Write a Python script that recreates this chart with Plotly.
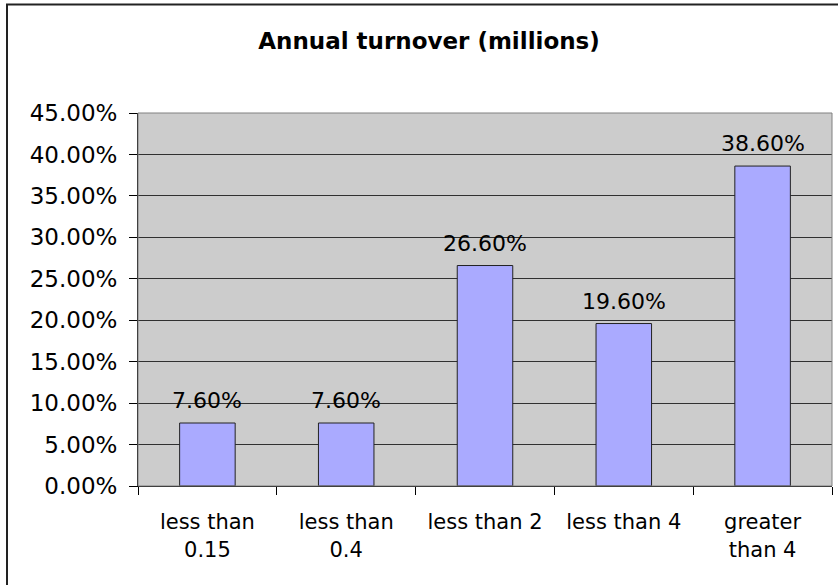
import plotly.graph_objects as go

# Share of companies by annual turnover band (millions)
categories = ["less than<br>0.15", "less than<br>0.4", "less than 2", "less than 4", "greater<br>than 4"]
shares = [0.076, 0.076, 0.266, 0.196, 0.386]
y_ticks = [0.0, 0.05, 0.10, 0.15, 0.20, 0.25, 0.30, 0.35, 0.40, 0.45]

W, H = 838, 585
ML, MR, MT, MB = 138, 6, 113, 99
PW, PH = W - ML - MR, H - MT - MB

FONT = "DejaVu Sans"
BAR_FILL = "#AAAAFF"
PLOT_BG = "#CCCCCC"
INK = "#000000"

fig = go.Figure()
fig.add_trace(go.Bar(
    x=categories,
    y=shares,
    marker=dict(color=BAR_FILL, line=dict(color="#222222", width=1)),
    hoverinfo="skip",
))

# value labels above each bar
for cat, val in zip(categories, shares):
    fig.add_annotation(
        x=cat, y=val, xref="x", yref="y",
        text=f"{val * 100:.2f}%",
        showarrow=False, yanchor="bottom", yshift=8,
        font=dict(family=FONT, size=22, color=INK),
    )

def px_to_paper_x(px):
    return (px - ML) / PW

def px_to_paper_y(py):
    return (H - MB - py) / PH

shapes = [
    # plot-area frame (grey)
    dict(type="rect", xref="paper", yref="paper", x0=0, x1=1, y0=0, y1=1,
         line=dict(color="#808080", width=1), fillcolor="rgba(0,0,0,0)", layer="above"),
    # outer chart border (left and top edges; right and bottom run off the page)
    dict(type="rect", xref="paper", yref="paper",
         x0=px_to_paper_x(7), x1=px_to_paper_x(W + 10),
         y0=px_to_paper_y(H + 10), y1=px_to_paper_y(4.5),
         line=dict(color="#222222", width=2), fillcolor="rgba(0,0,0,0)", layer="above"),
]

fig.update_layout(
    width=W, height=H,
    margin=dict(l=ML, r=MR, t=MT, b=MB, pad=0),
    paper_bgcolor="white",
    plot_bgcolor=PLOT_BG,
    bargap=0.6,
    showlegend=False,
    font=dict(family=FONT, size=22, color=INK),
    title=dict(
        text="<b>Annual turnover (millions)</b>",
        x=429 / W, xanchor="center", xref="container",
        y=1 - 41 / H, yanchor="middle", yref="container",
        font=dict(family=FONT, size=23, color=INK),
    ),
    shapes=shapes,
    xaxis=dict(
        type="category",
        tickson="boundaries",
        ticks="outside", ticklen=8, tickcolor=INK, tickwidth=1,
        showline=True, linecolor=INK, linewidth=1,
        showgrid=False,
        tickfont=dict(family=FONT, size=21, color=INK),
        ticklabelstandoff=17,
    ),
    yaxis=dict(
        range=[0, 0.45],
        tickvals=y_ticks,
        tickformat=".2%",
        ticks="outside", ticklen=8, tickcolor=INK, tickwidth=1,
        showline=True, linecolor=INK, linewidth=1,
        showgrid=True, gridcolor="#303030", gridwidth=1,
        zeroline=False,
        tickfont=dict(family=FONT, size=23, color=INK),
        ticklabelstandoff=7,
    ),
)

fig.write_html("out.html")
